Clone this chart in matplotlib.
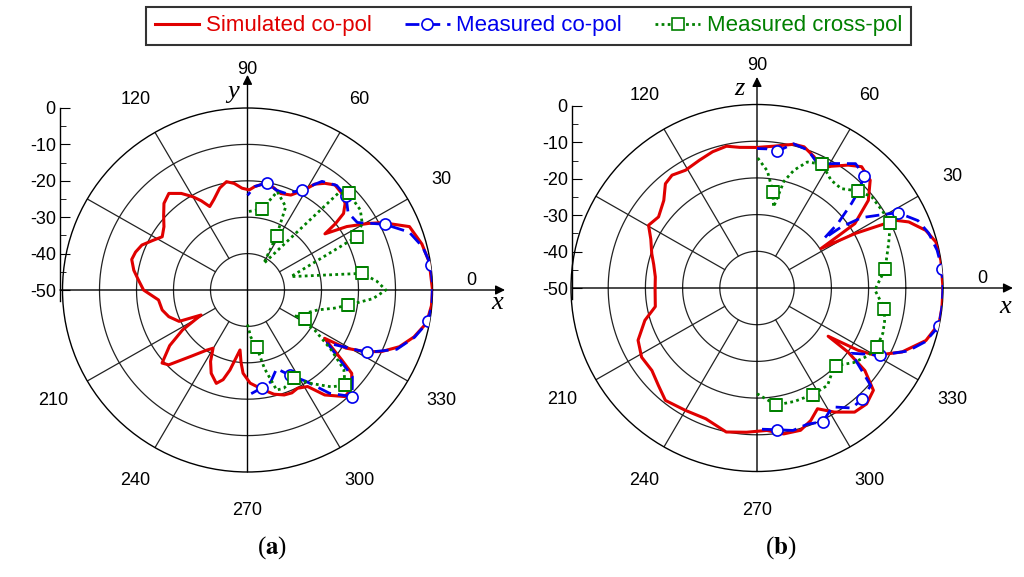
import numpy as np
import matplotlib
matplotlib.use('Agg')
import matplotlib.pyplot as plt
from matplotlib.ticker import MultipleLocator

plt.rcParams['font.family'] = ['Liberation Sans', 'DejaVu Sans']
plt.rcParams['axes.unicode_minus'] = False
plt.rcParams['mathtext.fontset'] = 'stix'

# ---- (a) x-y plane ----
a_sim_deg = [0, 8.9, 15, 21.7, 26.9, 29.2, 33, 36.4, 37.5, 39, 42, 46.2, 50.7, 54.5, 58, 60.8,
             65.8, 71.3, 76, 81.4, 86, 89, 93, 97, 100.8, 105, 110, 114, 117, 120, 124, 128.7,
             133.5, 138, 142.4, 147.6, 152, 156.6, 161, 165, 170, 174.7, 180, 186.5, 193.4, 199,
             205, 208.7, 212, 216, 221, 224, 230, 236, 239.8, 243, 246.8, 251.8, 255, 257.8, 263,
             265, 267, 271.6, 279, 284, 289, 293, 296.6, 301.5, 305.9, 312, 316.2, 320.9, 323,
             327.5, 329, 332, 335, 339.2, 344, 349.3, 355, 360]
a_sim_db = [0, -0.3, -1.2, -2.9, -9.1, -12.5, -18, -24, -20, -16.6, -14.5, -13.2, -12.7, -14, -15.7, -18.5,
            -21.4, -22, -21, -20.5, -21.5, -22.5, -22, -20.5, -19.7, -21, -23.5, -24.9, -22.5, -20.4, -18, -16,
            -17.2, -19.5, -21.5, -22.7, -21, -18.9, -18, -17.6, -18.8, -20.4, -21.9, -25.8, -26.3, -27.5,
            -29.6, -35.7, -29.3, -24, -19.4, -20.4, -26.2, -30, -31.5, -28, -25.1, -23, -24.5, -27.5, -33.4,
            -30, -27.1, -24.4, -22.2, -20.5, -19.5, -19.3, -19.8, -18.9, -14.4, -10.6, -11, -13.7, -18.1,
            -25.3, -19, -13.9, -10, -6.1, -3.2, -0.8, -0.1, 0]

a_meas_deg = [272, 278, 284, 290, 296, 302, 308, 314, 320, 326, 332, 338, 344, 350, 356, 362,
              368, 374, 380, 386, 392, 398, 404, 410, 416, 422, 428, 434, 440, 446, 450]
a_meas_db = [-21.5, -22.8, -24, -27, -24, -20.5, -14, -9.3, -13, -24, -13.5, -6.5, -3, -0.4, 0, 0,
             0, -1.2, -3.5, -8.8, -15, -15.5, -13, -12.5, -14, -18.8, -21.5, -21.5, -20.1, -21.5, -24]
a_meas_marks = [1, 4, 7, 10, 13, 16, 19, 22, 25, 28]

a_cross_deg = [270, 274, 279, 282, 286, 290, 297.5, 304, 310.5, 315.3, 320, 324, 328.8, 331.5, 332.6,
               338, 344, 348, 351.4, 356, 360, 364, 368.4, 377.4, 386.4, 390.6, 395.8, 404.2, 407.3,
               419, 422.2, 425.7, 433.4, 440, 450]
a_cross_db = [-40.5, -37, -34.1, -28, -21.4, -21.3, -22.6, -19, -15, -12.9, -16, -22, -28.8, -35.6, -32.5,
              -33, -30.2, -26, -22.4, -16, -12.6, -15, -18.7, -37.7, -17, -14, -12.4, -11.9, -13.8,
              -41.5, -33.1, -24.9, -21.8, -27.4, -28.5]
a_cross_marks = [2, 6, 9, 14, 18, 22, 24, 27, 30, 33]

# ---- (b) x-z plane ----
b_sim_deg = [0, 8.7, 14.6, 19.1, 23.8, 26.4, 29.4, 32, 33, 33.7, 38.6, 44, 49.6, 53.8, 59, 62.8,
             66.7, 71.8, 75.8, 83.4, 90, 96.9, 102, 107.8, 114, 120.9, 126.6, 130.9, 136.4, 143.8,
             149.6, 155, 161.7, 167, 173.7, 181, 190.5, 196.3, 204, 211.3, 218.5, 225, 231.2, 240,
             248.9, 258.1, 265.9, 273.9, 280.2, 286.8, 291.8, 296.3, 301.6, 307.8, 313, 318.3, 322.2,
             324.5, 325.5, 328, 330, 335.9, 342.5, 348.8, 354, 360]
b_sim_db = [0, 0, -0.3, -2, -5.4, -8.5, -19.8, -29.7, -24, -18.4, -11.7, -7.7, -6.6, -8.5, -11.3, -13.4,
            -11.1, -9.5, -9.6, -11.1, -11.7, -11.4, -10.5, -11, -11.9, -12.6, -11.7, -12.4, -15.4, -17.2,
            -16.2, -18.5, -20.2, -21.5, -22.5, -22.6, -22.2, -18.6, -15, -13.7, -13.9, -12.5, -10.7, -11.5,
            -11.8, -9.9, -10.6, -11.1, -9.6, -9.5, -11.1, -13.3, -10.3, -7.2, -6.8, -8.1, -13.3,
            -20, -26.8, -18, -13.3, -7.3, -2.4, -0.1, 0, 0]

b_meas_deg = [272, 278, 284, 290, 296, 302, 308, 313, 319, 325, 331, 337, 342, 348, 354, 360, 366,
              372, 378, 383, 388.4, 390.2, 394.3, 396.3, 396.8, 399, 402.2, 404, 406.7, 412, 418,
              424, 430, 436, 441.8, 446, 450]
b_meas_db = [-11.5, -11, -10, -10.5, -9.5, -11.8, -8.5, -8.6, -9.5, -19, -12.3, -6, -2.5, 0, 0, 0, 0,
             -0.5, -1.5, -3, -6.9, -10, -16, -22, -27.5, -22, -15.7, -12, -8, -7, -10,
             -12.5, -10, -9.5, -12.4, -12, -12]
b_meas_marks = [1, 4, 7, 10, 13, 16, 20, 28, 34]

b_cross_deg = [270, 279.2, 288, 297.4, 305.6, 310, 315.2, 322, 328, 333.4, 340, 345, 350.7, 359, 362,
               368.4, 378.9, 386.3, 392.3, 398.9, 404.2, 410.1, 415.9, 422.6, 428.5, 432.8, 436,
               438.6, 440.7, 445, 450]
b_cross_db = [-21.2, -17.7, -17.5, -17.3, -17.4, -19, -20, -17, -15, -14, -14, -14.5, -15.3, -18.3, -17.5,
              -15.2, -12.6, -10, -10.3, -10.4, -12.1, -14.7, -14.5, -12, -13.1, -16.4, -20,
              -27.5, -23.5, -18, -14.3]
b_cross_marks = [1, 3, 6, 9, 12, 15, 17, 20, 23, 28]

angle_labels = [0, 30, 60, 90, 120, 210, 240, 270, 300, 330]
legend_labels = ['Simulated co-pol', 'Measured co-pol', 'Measured cross-pol']
colors = ['#e00000', '#0000ee', '#008000']

W, H = 1024, 577
fig = plt.figure(figsize=(W / 100, H / 100), dpi=100)


def px(l, t, w, h):
    return [l / W, 1 - (t + h) / H, w / W, h / H]


def panel(box, rbox, up_name, up_pos, x_pos, hline, vtop, sim, meas, cross, tag, tag_x):
    ax = fig.add_axes(px(*box), projection='polar')
    ax.set_aspect('auto')
    ax.set_ylim(-50, 0)
    ax.grid(False)
    ax.set_xticks([])
    ax.set_yticks([])
    ax.spines['polar'].set_linewidth(1.0)
    t = np.linspace(0, 2 * np.pi, 361)
    for lev in [-40, -30, -20, -10]:
        ax.plot(t, np.full_like(t, lev), color='#222222', lw=0.9, zorder=1)
    for a in range(30, 360, 30):
        if a % 90:
            ax.plot([np.deg2rad(a)] * 2, [-40, 0], color='#222222', lw=0.9, zorder=1)
    arrow = dict(arrowstyle='-|>', lw=1.0, color='black', mutation_scale=14, shrinkA=0, shrinkB=0)
    ax.annotate('', xy=(hline[1], 0.5), xytext=(hline[0], 0.5), xycoords='axes fraction',
                arrowprops=arrow, annotation_clip=False)
    ax.annotate('', xy=(0.5, vtop), xytext=(0.5, 0.0), xycoords='axes fraction',
                arrowprops=arrow, annotation_clip=False)
    for a in angle_labels:
        ang = 2.5 if a == 0 else a
        ax.text(np.deg2rad(ang), 10.5, str(a), ha='center', va='center', fontsize=13, clip_on=False)
    ax.text(*up_pos, up_name, transform=ax.transAxes, ha='center', va='center', fontsize=19,
            style='italic', family='Liberation Serif')
    ax.text(*x_pos, 'x', transform=ax.transAxes, ha='center', va='center', fontsize=19,
            style='italic', family='Liberation Serif')

    l1, = ax.plot(np.deg2rad(sim[0]), sim[1], color=colors[0], lw=2.2, zorder=3)
    l2, = ax.plot(np.deg2rad(meas[0]), meas[1], color=colors[1], lw=2.0, ls=(0, (5, 2.5)),
                  marker='o', ms=8, mfc='white', mec=colors[1], mew=1.2,
                  markevery=meas[2], zorder=4)
    l3, = ax.plot(np.deg2rad(cross[0]), cross[1], color=colors[2], lw=2.0, ls=(0, (1, 1.2)),
                  marker='s', ms=8, mfc='white', mec=colors[2], mew=1.2,
                  markevery=cross[2], zorder=4)

    # radial scale on the left
    rax = fig.add_axes(px(*rbox))
    rax.set_ylim(-53, 0)
    rax.patch.set_visible(False)
    for s in ['top', 'right', 'bottom']:
        rax.spines[s].set_visible(False)
    rax.spines['left'].set_linewidth(1.0)
    rax.set_xticks([])
    rax.yaxis.set_major_locator(MultipleLocator(10))
    rax.yaxis.set_minor_locator(MultipleLocator(5))
    rax.set_yticks([0, -10, -20, -30, -40, -50])
    rax.set_yticklabels(['0', '-10', '-20', '-30', '-40', '-50'])
    rax.tick_params(axis='y', which='major', direction='in', length=7, labelsize=13, pad=3)
    rax.tick_params(axis='y', which='minor', direction='in', length=4)

    fig.text(tag_x / W, 1 - 548 / H, r'($\mathbf{' + tag + '}$)', ha='center', va='center',
             fontsize=18, family='Liberation Serif')
    return [l1, l2, l3]


handles = panel((62.5, 108, 370, 364), (60, 108, 1, 193), 'y', (0.461, 1.044), (1.174, 0.464),
                (-0.007, 1.196), 1.091,
                (a_sim_deg, a_sim_db), (a_meas_deg, a_meas_db, a_meas_marks),
                (a_cross_deg, a_cross_db, a_cross_marks), 'a', 272)
panel((571, 104.5, 372, 367), (572, 106, 1, 193), 'z', (0.454, 1.042), (1.167, 0.448),
      (0.003, 1.188), 1.075,
      (b_sim_deg, b_sim_db), (b_meas_deg, b_meas_db, b_meas_marks),
      (b_cross_deg, b_cross_db, b_cross_marks), 'b', 781)

leg = fig.legend(handles, legend_labels, loc='center', bbox_to_anchor=(0.516, 1 - 26 / H), ncol=3,
                 frameon=True, fancybox=False, edgecolor='black', handlelength=2.0, numpoints=1,
                 columnspacing=1.5, handletextpad=0.3, borderpad=0.4,
                 prop={'family': 'Liberation Sans', 'size': 16})
leg.get_frame().set_linewidth(1.5)
for txt, c in zip(leg.get_texts(), colors):
    txt.set_color(c)

fig.savefig('out.png', dpi=100)
